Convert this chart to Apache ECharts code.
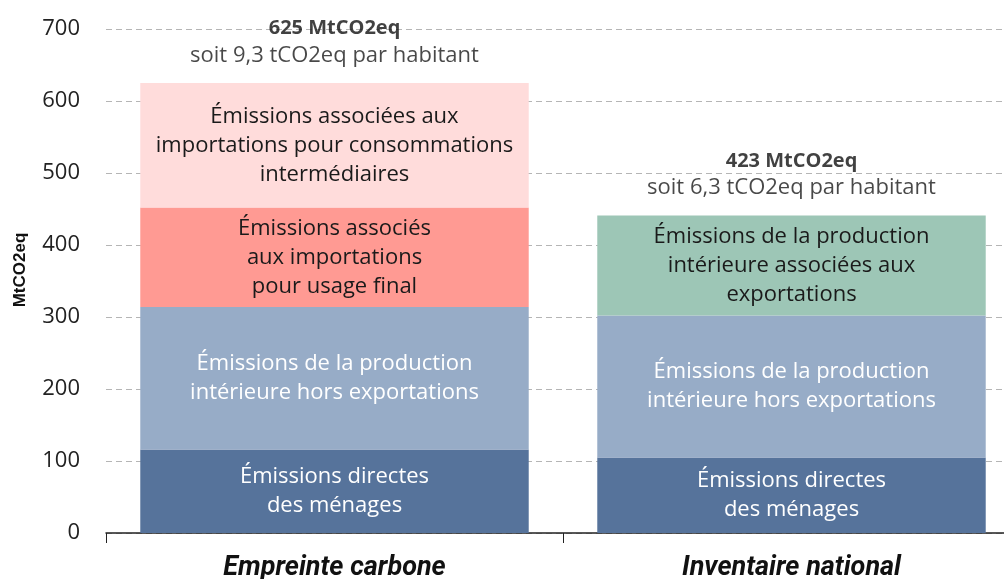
<!DOCTYPE html>
<html>
<head>
<meta charset="utf-8">
<script src="https://cdn.jsdelivr.net/npm/echarts@6/dist/echarts.min.js"></script>
<style>
  html, body { margin: 0; padding: 0; background: #fff; }
  #chart { width: 1004px; height: 579px; }
</style>
</head>
<body>
<div id="chart"></div>
<script>
  // données (MtCO2eq)
  const categories = ['Empreinte carbone', 'Inventaire national']
  const directes = [116, 105]
  const productionInt = [198, 197]
  const importFinal = [138, null]
  const importInter = [173, null]
  const exportations = [null, 139]
  const totalLabels = ['625 MtCO2eq', '423 MtCO2eq']
  const perCapitaLabels = ['soit 9,3 tCO2eq par habitant', 'soit 6,3 tCO2eq par habitant']
  const yTicks = { min: 0, max: 700, interval: 100 }

  const directesText = 'Émissions directes\ndes ménages'
  const productionText = 'Émissions de la production\nintérieure hors exportations'
  const importFinalText = 'Émissions associés\naux importations\npour usage final'
  const importInterText = 'Émissions associées aux\nimportations pour consommations\nintermédiaires'
  const exportText = 'Émissions de la production\nintérieure associées aux\nexportations'

  const FONT = 'Open Sans'

  let totals = categories.map((c, i) =>
    [directes, productionInt, importFinal, importInter, exportations]
      .reduce((s, arr) => s + (arr[i] || 0), 0))

  function segment(name, data, color, text, textColor) {
    return {
      name: name,
      type: 'bar',
      stack: 'total',
      data: data,
      barCategoryGap: '15%',
      itemStyle: { color: color },
      label: {
        show: true,
        position: 'inside',
        formatter: () => text,
        color: textColor,
        fontFamily: FONT,
        fontSize: 22,
        lineHeight: 29,
        align: 'center'
      }
    }
  }

  let myChart = echarts.init(document.getElementById('chart'), null, { renderer: 'canvas' })

  let option = {
    animation: false,
    grid: { left: 106, right: -16, top: 29, bottom: 46, containLabel: false, outerBoundsMode: 'none' },
    graphic: [{
      type: 'text',
      x: 20,
      y: 270,
      rotation: Math.PI / 2,
      style: {
        text: 'MtCO2eq',
        fontFamily: 'Liberation Sans',
        fontWeight: 'bold',
        fontSize: 17,
        fill: '#111',
        align: 'center',
        verticalAlign: 'middle'
      }
    }],
    xAxis: {
      type: 'category',
      data: categories,
      axisLine: { lineStyle: { color: '#222', width: 1.5 } },
      axisTick: { show: true, length: 10, lineStyle: { color: '#222' } },
      axisLabel: {
        fontFamily: 'Roboto',
        fontWeight: 'bold',
        fontStyle: 'italic',
        fontSize: 27,
        color: '#111',
        margin: 22
      }
    },
    yAxis: {
      type: 'value',
      min: yTicks.min,
      max: yTicks.max,
      interval: yTicks.interval,
      axisLine: { show: false },
      axisTick: { show: false },
      axisLabel: { fontFamily: FONT, fontSize: 22, color: '#222', margin: 26 },
      splitLine: { lineStyle: { color: '#b5b5b5', type: [6, 4], width: 1 } }
    },
    series: [
      segment('directes', directes, '#56739b', directesText, '#ffffff'),
      segment('production', productionInt, '#97acc7', productionText, '#ffffff'),
      segment('importFinal', importFinal, '#ff9a93', importFinalText, '#1a1a1a'),
      segment('importInter', importInter, '#ffdcdb', importInterText, '#1a1a1a'),
      segment('exportations', exportations, '#9dc6b6', exportText, '#1a1a1a'),
      {
        name: 'total',
        type: 'scatter',
        data: totals,
        symbolSize: 0,
        silent: true,
        label: {
          show: true,
          position: 'top',
          distance: 14,
          formatter: (p) => '{b|' + totalLabels[p.dataIndex] + '}\n{n|' + perCapitaLabels[p.dataIndex] + '}',
          rich: {
            b: { fontFamily: FONT, fontWeight: 'bold', fontSize: 20, color: '#111', lineHeight: 27 },
            n: { fontFamily: FONT, fontSize: 22, color: '#1a1a1a', lineHeight: 27 }
          }
        }
      }
    ]
  }

  myChart.setOption(option)
</script>
</body>
</html>
